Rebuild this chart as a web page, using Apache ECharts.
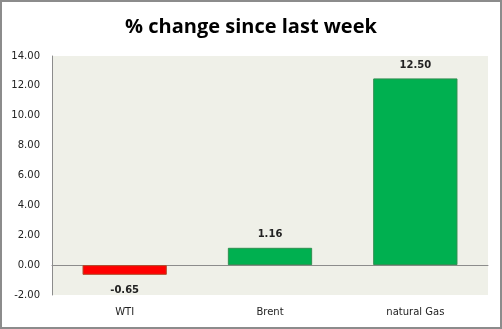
<!DOCTYPE html>
<html>
<head>
<meta charset="utf-8">
<script src="https://cdn.jsdelivr.net/npm/echarts@6/dist/echarts.min.js"></script>
<style>
  html, body { margin: 0; padding: 0; background: #fff; }
  #chart { width: 502px; height: 329px; }
</style>
</head>
<body>
<div id="chart"></div>
<script>
// Weekly percentage change per commodity
const categories = ['WTI', 'Brent', 'natural Gas'];
const changes = [-0.65, 1.16, 12.50];
const yTicks = { min: -2, max: 14, interval: 2 };

const chart = echarts.init(document.getElementById('chart'), null, { renderer: 'canvas' });

const frame = {
  type: 'rect',
  shape: { x: 1, y: 1, width: 500, height: 327 },
  style: { fill: 'none', stroke: '#8c8c8c', lineWidth: 2 },
  silent: true
};

chart.setOption({
  animation: false,
  title: {
    text: '% change since last week',
    left: 'center',
    top: 12,
    textStyle: { fontFamily: 'Open Sans', fontWeight: 'bold', fontSize: 20, color: '#000' }
  },
  graphic: [frame],
  grid: {
    left: 52, right: 14, top: 56, bottom: 34,
    show: true,
    backgroundColor: '#eff0e8',
    borderWidth: 0
  },
  xAxis: {
    type: 'category',
    data: categories,
    axisLine: { onZero: true, lineStyle: { color: '#8c8c8c', width: 1 } },
    axisTick: { show: false },
    axisLabel: { show: false }
  },
  yAxis: {
    type: 'value',
    min: yTicks.min, max: yTicks.max, interval: yTicks.interval,
    axisLine: { show: true, lineStyle: { color: '#8c8c8c', width: 1 } },
    axisTick: { show: false },
    splitLine: { show: false },
    axisLabel: {
      fontFamily: 'DejaVu Sans', fontSize: 10, color: '#222', margin: 12,
      formatter: v => v.toFixed(2)
    }
  },
  series: [{
    type: 'bar',
    barWidth: '58%',
    data: changes.map(v => ({
      value: v,
      itemStyle: v < 0
        ? { color: '#ff0000', borderColor: '#b34a2a', borderWidth: 1 }
        : { color: '#00b050', borderColor: '#2f8f50', borderWidth: 1 },
      label: { distance: v < 0 ? 11 : 8 }
    })),
    label: {
      show: true,
      position: 'outside',
      fontFamily: 'DejaVu Sans', fontSize: 10, fontWeight: 'bold', color: '#222',
      formatter: p => p.value.toFixed(2)
    }
  }]
});

// category names sit below the plot area rather than along the zero line
const gridBottom = 329 - 34;
chart.setOption({
  graphic: [frame].concat(categories.map(c => ({
    type: 'text',
    x: chart.convertToPixel({ xAxisIndex: 0 }, c),
    y: gridBottom + 17,
    style: { text: c, fontFamily: 'DejaVu Sans', fontSize: 10, fill: '#222', align: 'center', verticalAlign: 'middle' },
    silent: true
  })))
});
</script>
</body>
</html>
